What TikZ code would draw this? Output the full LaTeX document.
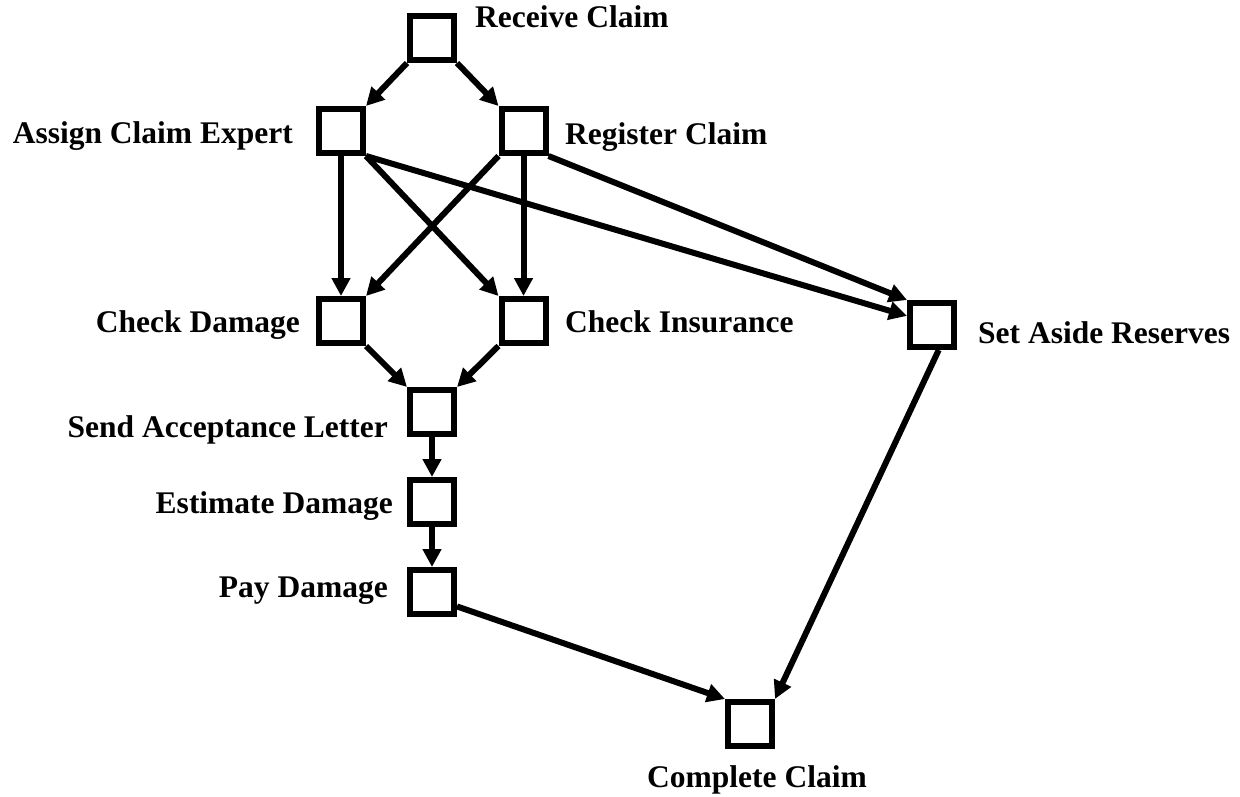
\documentclass[tikz,border=0pt]{standalone}
\usepackage{fontspec}
\setmainfont{Liberation Serif}
\usetikzlibrary{arrows.meta}
\begin{document}
\begin{tikzpicture}[x=1pt,y=-1pt,
  task/.style={draw, line width=6pt, minimum size=44pt, inner sep=0pt, outer sep=3pt},
  flow/.style={line width=6pt, -{Triangle[length=18pt,width=18pt]}},
  lbl/.style={font=\fontsize{31.5}{36}\selectfont\bfseries, inner sep=0pt}]
\useasboundingbox (0,0) rectangle (1240,797);

% activity boxes
\node[task] (rc)  at (432,38)  {};
\node[task] (ace) at (341,131) {};
\node[task] (reg) at (523.5,131) {};
\node[task] (cd)  at (341,321) {};
\node[task] (ci)  at (523.5,321) {};
\node[task] (sal) at (432,412) {};
\node[task] (ed)  at (432,502) {};
\node[task] (pd)  at (432,592) {};
\node[task] (sar) at (932,325) {};
\node[task] (cc)  at (750,724) {};

% activity names
\node[lbl, anchor=base west] (rcl)  at (475,28)  {Receive Claim};
\node[lbl, anchor=base east] (acel) at (293,144) {Assign Claim Expert};
\node[lbl, anchor=base west] (regl) at (565,145) {Register Claim};
\node[lbl, anchor=base east] (cdl)  at (300,332) {Check Damage};
\node[lbl, anchor=base west] (cil)  at (565,332) {Check Insurance};
\node[lbl, anchor=base east] (sall) at (388,437) {Send Acceptance Letter};
\node[lbl, anchor=base east] (edl)  at (393,513) {Estimate Damage};
\node[lbl, anchor=base east] (pdl)  at (388,597) {Pay Damage};
\node[lbl, anchor=base west] (sarl) at (978,343) {Set Aside Reserves};
\node[lbl, anchor=base]      (ccl)  at (757,787) {Complete Claim};

% precedence arrows
\draw[flow] (rc.south west) -- (ace.north east);
\draw[flow] (rc.south east) -- (reg.north west);
\draw[flow] (ace.south) -- (cd.north);
\draw[flow] (ace.south east) -- (ci.north west);
\draw[flow] (reg.south west) -- (cd.north east);
\draw[flow] (reg.south) -- (ci.north);
\draw[flow] (ace.south east) -- (sar.160);
\draw[flow] (reg.south east) -- (sar.north west);
\draw[flow] (cd.south east) -- (sal.north west);
\draw[flow] (ci.south west) -- (sal.north east);
\draw[flow] (sal.south) -- (ed.north);
\draw[flow] (ed.south) -- (pd.north);
\draw[flow] (pd.-30) -- (cc.north west);
\draw[flow] (sar.-75) -- (cc.north east);
\end{tikzpicture}
\end{document}
